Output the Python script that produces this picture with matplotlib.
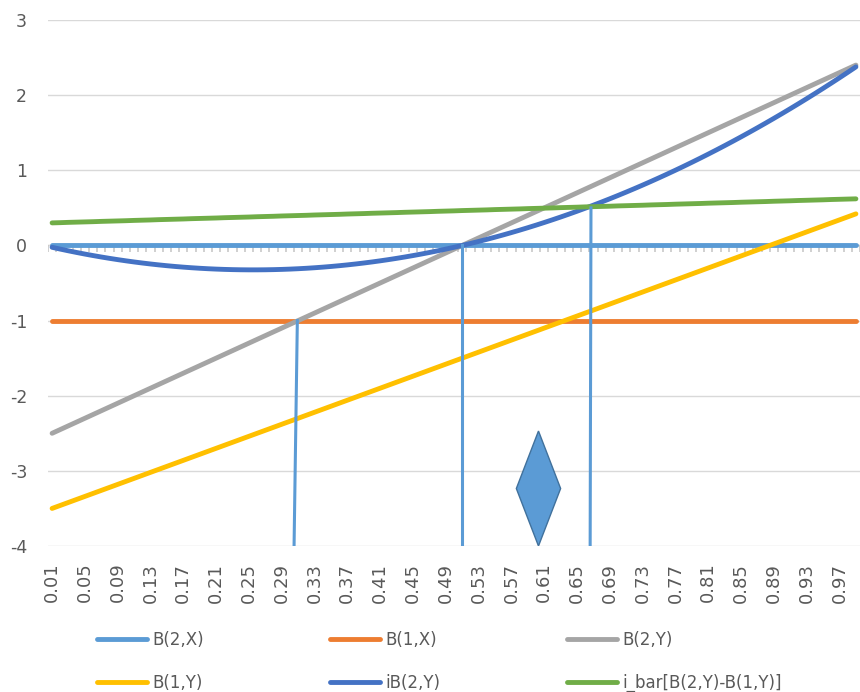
import numpy as np
import matplotlib
matplotlib.use("Agg")
import matplotlib.pyplot as plt

plt.rcParams['axes.unicode_minus'] = False

# categories 0.01 ... 0.99
x = np.round(np.arange(1, 100) / 100, 2)
tick_labels = ['0.01', '0.05', '0.09', '0.13', '0.17', '0.21', '0.25', '0.29', '0.33',
               '0.37', '0.41', '0.45', '0.49', '0.53', '0.57', '0.61', '0.65', '0.69',
               '0.73', '0.77', '0.81', '0.85', '0.89', '0.93', '0.97']

b2x = [0.0] * 99
b1x = [-1.0] * 99
b2y = [-2.50, -2.45, -2.40, -2.35, -2.30, -2.25, -2.20, -2.15, -2.10, -2.05,
       -2.00, -1.95, -1.90, -1.85, -1.80, -1.75, -1.70, -1.65, -1.60, -1.55,
       -1.50, -1.45, -1.40, -1.35, -1.30, -1.25, -1.20, -1.15, -1.10, -1.05,
       -1.00, -0.95, -0.90, -0.85, -0.80, -0.75, -0.70, -0.65, -0.60, -0.55,
       -0.50, -0.45, -0.40, -0.35, -0.30, -0.25, -0.20, -0.15, -0.10, -0.05,
       0.00, 0.05, 0.10, 0.15, 0.20, 0.25, 0.30, 0.35, 0.40, 0.45,
       0.50, 0.55, 0.60, 0.65, 0.70, 0.75, 0.80, 0.85, 0.90, 0.95,
       1.00, 1.05, 1.10, 1.15, 1.20, 1.25, 1.30, 1.35, 1.40, 1.45,
       1.50, 1.55, 1.60, 1.65, 1.70, 1.75, 1.80, 1.85, 1.90, 1.95,
       2.00, 2.05, 2.10, 2.15, 2.20, 2.25, 2.30, 2.35, 2.40]
b1y = [-3.50, -3.46, -3.42, -3.38, -3.34, -3.30, -3.26, -3.22, -3.18, -3.14,
       -3.10, -3.06, -3.02, -2.98, -2.94, -2.90, -2.86, -2.82, -2.78, -2.74,
       -2.70, -2.66, -2.62, -2.58, -2.54, -2.50, -2.46, -2.42, -2.38, -2.34,
       -2.30, -2.26, -2.22, -2.18, -2.14, -2.10, -2.06, -2.02, -1.98, -1.94,
       -1.90, -1.86, -1.82, -1.78, -1.74, -1.70, -1.66, -1.62, -1.58, -1.54,
       -1.50, -1.46, -1.42, -1.38, -1.34, -1.30, -1.26, -1.22, -1.18, -1.14,
       -1.10, -1.06, -1.02, -0.98, -0.94, -0.90, -0.86, -0.82, -0.78, -0.74,
       -0.70, -0.66, -0.62, -0.58, -0.54, -0.50, -0.46, -0.42, -0.38, -0.34,
       -0.30, -0.26, -0.22, -0.18, -0.14, -0.10, -0.06, -0.02, 0.02, 0.06,
       0.10, 0.14, 0.18, 0.22, 0.26, 0.30, 0.34, 0.38, 0.42]
ib2y = [-0.025, -0.049, -0.072, -0.094, -0.115, -0.135, -0.154, -0.172, -0.189, -0.205,
        -0.220, -0.234, -0.247, -0.259, -0.270, -0.280, -0.289, -0.297, -0.304, -0.310,
        -0.315, -0.319, -0.322, -0.324, -0.325, -0.325, -0.324, -0.322, -0.319, -0.315,
        -0.310, -0.304, -0.297, -0.289, -0.280, -0.270, -0.259, -0.247, -0.234, -0.220,
        -0.205, -0.189, -0.172, -0.154, -0.135, -0.115, -0.094, -0.072, -0.049, -0.025,
        0.000, 0.026, 0.053, 0.081, 0.110, 0.140, 0.171, 0.203, 0.236, 0.270,
        0.305, 0.341, 0.378, 0.416, 0.455, 0.495, 0.536, 0.578, 0.621, 0.665,
        0.710, 0.756, 0.803, 0.851, 0.900, 0.950, 1.001, 1.053, 1.106, 1.160,
        1.215, 1.271, 1.328, 1.386, 1.445, 1.505, 1.566, 1.628, 1.691, 1.755,
        1.820, 1.886, 1.953, 2.021, 2.090, 2.160, 2.231, 2.303, 2.376]
ibar = [0.300, 0.303, 0.307, 0.310, 0.313, 0.316, 0.320, 0.323, 0.326, 0.329,
        0.333, 0.336, 0.339, 0.343, 0.346, 0.349, 0.352, 0.356, 0.359, 0.362,
        0.365, 0.369, 0.372, 0.375, 0.378, 0.382, 0.385, 0.388, 0.392, 0.395,
        0.398, 0.401, 0.405, 0.408, 0.411, 0.414, 0.418, 0.421, 0.424, 0.428,
        0.431, 0.434, 0.437, 0.441, 0.444, 0.447, 0.450, 0.454, 0.457, 0.460,
        0.464, 0.467, 0.470, 0.473, 0.477, 0.480, 0.483, 0.486, 0.490, 0.493,
        0.496, 0.499, 0.503, 0.506, 0.509, 0.513, 0.516, 0.519, 0.522, 0.526,
        0.529, 0.532, 0.535, 0.539, 0.542, 0.545, 0.549, 0.552, 0.555, 0.558,
        0.562, 0.565, 0.568, 0.571, 0.575, 0.578, 0.581, 0.584, 0.588, 0.591,
        0.594, 0.598, 0.601, 0.604, 0.607, 0.611, 0.614, 0.617, 0.620]

# drop lines (x bottom, x top, y top) and the diamond shape
drop_x0 = [0.305, 0.51, 0.666]
drop_x1 = [0.309, 0.51, 0.667]
drop_top = [-1.0, 0.0, 0.5]
diamond_cx, diamond_hw = 0.603, 0.027
diamond_top, diamond_bot = -2.47, -4.0

grey = '#595959'
fig = plt.figure(figsize=(8.6, 6.92), dpi=100)
ax = fig.add_axes([48/860, 1-546/692, 1-48/860, 526/692])

ax.set_ylim(-4, 3)
ax.set_xlim(0.005, 0.995)
ax.set_yticks(range(-4, 4))
ax.grid(axis='y', color='#d9d9d9', lw=1)
ax.set_axisbelow(True)
for s in ax.spines.values():
    s.set_visible(False)

# category axis crossing at 0 with small tick marks
ax.axhline(0, color='#d9d9d9', lw=1, zorder=1)
bounds = np.arange(0.005, 1.0, 0.01)
ax.vlines(bounds, -0.085, 0, color='#c8c8c8', lw=1.2, zorder=1)

kw = dict(lw=3.5, solid_capstyle='round', zorder=3)
l1, = ax.plot(x, b2x, color='#5B9BD5', label='B(2,X)', **kw)
l2, = ax.plot(x, b1x, color='#ED7D31', label='B(1,X)', **kw)
l3, = ax.plot(x, b2y, color='#A5A5A5', label='B(2,Y)', **kw)
l4, = ax.plot(x, b1y, color='#FFC000', label='B(1,Y)', **kw)
l5, = ax.plot(x, ib2y, color='#4472C4', label='iB(2,Y)', **kw)
l6, = ax.plot(x, ibar, color='#70AD47', label='i_bar[B(2,Y)-B(1,Y)]', **kw)

for a, b, t in zip(drop_x0, drop_x1, drop_top):
    ax.plot([a, b], [-4, t], color='#5B9BD5', lw=2.2, zorder=4)

dmid = (diamond_top + diamond_bot) / 2
ax.fill([diamond_cx, diamond_cx + diamond_hw, diamond_cx, diamond_cx - diamond_hw],
        [diamond_top, dmid, diamond_bot, dmid],
        facecolor='#5B9BD5', edgecolor='#41719C', lw=1, zorder=5)

ax.set_xticks([float(t) for t in tick_labels])
ax.set_xticklabels(tick_labels, rotation=90)
ax.tick_params(axis='x', length=0, pad=12, labelsize=13, labelcolor=grey)
ax.tick_params(axis='y', length=0, pad=15, labelsize=12.5, labelcolor=grey)

order = [l1, l4, l2, l5, l3, l6]
leg = fig.legend(order, [l.get_label() for l in order],
                 ncol=3, loc='upper left', bbox_to_anchor=(97/860, 1-631/692),
                 frameon=False, fontsize=12, handlelength=3.0, handletextpad=0.3,
                 columnspacing=7.6, labelspacing=1.5, borderpad=0, borderaxespad=0)
for t in leg.get_texts():
    t.set_color(grey)

plt.savefig('out.png', dpi=100)
